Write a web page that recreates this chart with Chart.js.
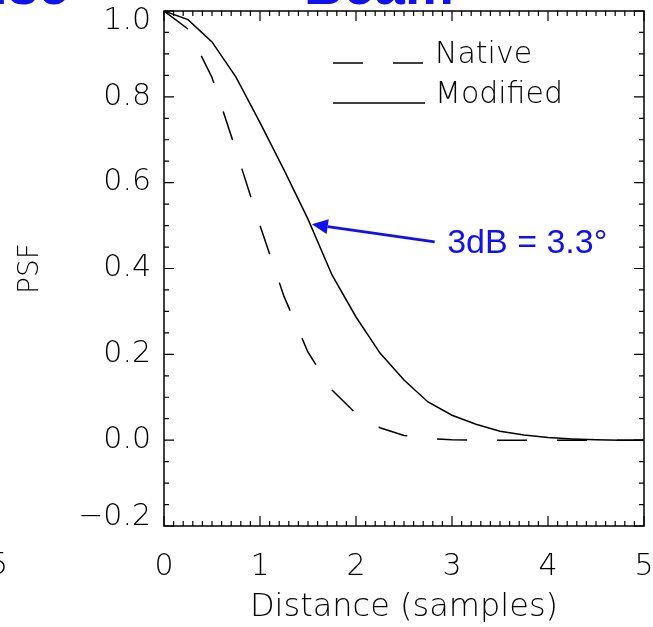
<!DOCTYPE html>
<html>
<head>
<meta charset="utf-8">
<script src="https://cdn.jsdelivr.net/npm/chart.js@4.4.1/dist/chart.umd.min.js"></script>
<style>
  html, body { margin: 0; padding: 0; background: #fff; }
  #wrap { width: 653px; height: 627px; }
</style>
</head>
<body>
<div id="wrap"><canvas id="psf" width="653" height="627"></canvas></div>
<script>
/* global Chart */

// values (distance in samples, PSF)
const distance = [0, 0.25, 0.5, 0.75, 1, 1.25, 1.5, 1.75, 2, 2.25, 2.5, 2.75, 3, 3.25, 3.5, 3.75, 4, 4.25, 4.5, 4.75, 5];
const nativePsf = [1.0, 0.958, 0.845, 0.675, 0.50, 0.335, 0.205, 0.117, 0.062, 0.029, 0.011, 0.004, 0.001, 0, 0, 0, 0, 0, 0, 0, 0];
const modifiedPsf = [1.0, 0.98, 0.928, 0.846, 0.74, 0.63, 0.515, 0.385, 0.287, 0.203, 0.140, 0.089, 0.058, 0.037, 0.021, 0.012, 0.006, 0.003, 0.001, 0, 0];
const seriesNames = ['Native', 'Modified'];
const xTickValues = [0, 1, 2, 3, 4, 5];
const yTickValues = [-0.2, 0, 0.2, 0.4, 0.6, 0.8, 1.0];
const axisTitles = { x: 'Distance (samples)', y: 'PSF' };
const noteText = '3dB = 3.3°';

const FONT = '"DejaVu Sans"';
const BLUE = 'rgb(16,16,240)';
const DASH = [30, 30];

function pts(ys) {
  return distance.map((d, i) => ({ x: d, y: ys[i] }));
}

function fmtY(v) {
  return v.toFixed(1).replace('-', '\u2212');
}

const frame = {
  id: 'frame',
  afterDraw(chart) {
    const { ctx, chartArea: a, scales: { x, y } } = chart;
    ctx.save();

    // box + inward ticks on all four sides
    ctx.strokeStyle = '#000';
    ctx.lineWidth = 1.5;
    ctx.strokeRect(a.left, a.top, a.right - a.left, a.bottom - a.top);
    ctx.lineWidth = 1.2;
    ctx.beginPath();
    for (let i = 0; i <= 50; i++) {
      const px = x.getPixelForValue(i * 0.1);
      const len = i % 10 === 0 ? 10 : 5;
      ctx.moveTo(px, a.bottom); ctx.lineTo(px, a.bottom - len);
      ctx.moveTo(px, a.top); ctx.lineTo(px, a.top + len);
    }
    for (let i = 0; i <= 24; i++) {
      const py = y.getPixelForValue(-0.2 + i * 0.05);
      const len = i % 4 === 0 ? 10 : 5;
      ctx.moveTo(a.left, py); ctx.lineTo(a.left + len, py);
      ctx.moveTo(a.right, py); ctx.lineTo(a.right - len, py);
    }
    ctx.stroke();

    // y tick labels (end labels pulled inside like the original)
    ctx.fillStyle = '#000';
    ctx.font = `200 30px ${FONT}`;
    ctx.textAlign = 'right';
    ctx.textBaseline = 'middle';
    const yMax = Math.max(...yTickValues), yMin = Math.min(...yTickValues);
    yTickValues.forEach(v => {
      let py = y.getPixelForValue(v);
      if (v === yMax) py += 10;
      if (v === yMin) py -= 9;
      ctx.fillText(fmtY(v), a.left - 13, py);
    });

    // legend
    const lx0 = 333, lx1 = 423;
    ctx.lineWidth = 1.5;
    ctx.setLineDash(DASH);
    ctx.beginPath(); ctx.moveTo(lx0, 63); ctx.lineTo(lx1, 63); ctx.stroke();
    ctx.setLineDash([]);
    ctx.beginPath(); ctx.moveTo(lx0, 103); ctx.lineTo(lx1 + 2, 103); ctx.stroke();
    ctx.textAlign = 'left';
    ctx.textBaseline = 'alphabetic';
    ctx.fillText(seriesNames[0], 435, 63);
    ctx.fillText(seriesNames[1], 435, 103);

    // annotation arrow
    const tipX = x.getPixelForValue(1.54), tipY = y.getPixelForValue(0.503);
    const tailX = x.getPixelForValue(2.82), tailY = y.getPixelForValue(0.462);
    const ang = Math.atan2(tailY - tipY, tailX - tipX);
    const hl = 16, hw = 7.5;
    const bx = tipX + Math.cos(ang) * hl, by = tipY + Math.sin(ang) * hl;
    ctx.strokeStyle = BLUE;
    ctx.fillStyle = BLUE;
    ctx.lineWidth = 2.7;
    ctx.beginPath(); ctx.moveTo(tailX, tailY); ctx.lineTo(bx, by); ctx.stroke();
    ctx.beginPath();
    ctx.moveTo(tipX, tipY);
    ctx.lineTo(bx - Math.sin(ang) * hw, by + Math.cos(ang) * hw);
    ctx.lineTo(bx + Math.sin(ang) * hw, by - Math.cos(ang) * hw);
    ctx.closePath(); ctx.fill();
    ctx.font = '34px "Liberation Sans", Arial, sans-serif';
    ctx.textBaseline = 'middle';
    ctx.fillText(noteText, x.getPixelForValue(2.95), y.getPixelForValue(0.458));

    // cut-off titles of the neighbouring panels
    ctx.font = 'bold 55px "Liberation Sans", Arial, sans-serif';
    ctx.textBaseline = 'alphabetic';
    ctx.textAlign = 'right';
    ctx.fillText('Noise', 69, 4);
    ctx.textAlign = 'left';
    ctx.fillText('Beam', 304, 4);

    // edge of the left panel
    ctx.fillStyle = '#000';
    ctx.font = `200 30px ${FONT}`;
    ctx.textAlign = 'right';
    ctx.textBaseline = 'middle';
    ctx.fillText('5', 8, 566);
    ctx.font = `200 32px ${FONT}`;
    ctx.fillText(')', 3, 608);
    ctx.restore();
  }
};

const ctx = document.getElementById('psf').getContext('2d');
new Chart(ctx, {
  type: 'scatter',
  data: {
    datasets: [
      {
        label: seriesNames[0],
        data: pts(nativePsf),
        showLine: true,
        borderColor: '#000',
        borderWidth: 1.5,
        borderDash: DASH,
        pointRadius: 0,
        tension: 0
      },
      {
        label: seriesNames[1],
        data: pts(modifiedPsf),
        showLine: true,
        borderColor: '#000',
        borderWidth: 1.5,
        pointRadius: 0,
        tension: 0
      }
    ]
  },
  options: {
    responsive: false,
    animation: false,
    devicePixelRatio: 1,
    layout: { padding: { top: 11, right: 9, left: 0, bottom: 0 } },
    plugins: { legend: { display: false }, tooltip: { enabled: false } },
    scales: {
      x: {
        type: 'linear',
        min: 0,
        max: 5,
        afterBuildTicks: (s) => { s.ticks = xTickValues.map(v => ({ value: v })); },
        afterFit: (s) => { s.height = 101; s.paddingLeft = 0; s.paddingRight = 0; },
        grid: { display: false, drawTicks: false },
        border: { display: false },
        ticks: { color: '#000', padding: 23, maxRotation: 0, font: { family: FONT, size: 30, weight: 200 } },
        title: { display: true, text: axisTitles.x, color: '#000', padding: { top: 0, bottom: 0 }, font: { family: FONT, size: 32, weight: 200 } }
      },
      y: {
        type: 'linear',
        min: -0.2,
        max: 1.0,
        afterBuildTicks: (s) => { s.ticks = yTickValues.map(v => ({ value: v })); },
        afterFit: (s) => { s.width = 164; s.paddingTop = 0; s.paddingBottom = 0; },
        grid: { display: false, drawTicks: false },
        border: { display: false },
        ticks: { display: false },
        title: { display: true, text: axisTitles.y, color: '#000', padding: { top: 14, bottom: 0 }, font: { family: FONT, size: 28, weight: 200 } }
      }
    }
  },
  plugins: [frame]
});
</script>
</body>
</html>
